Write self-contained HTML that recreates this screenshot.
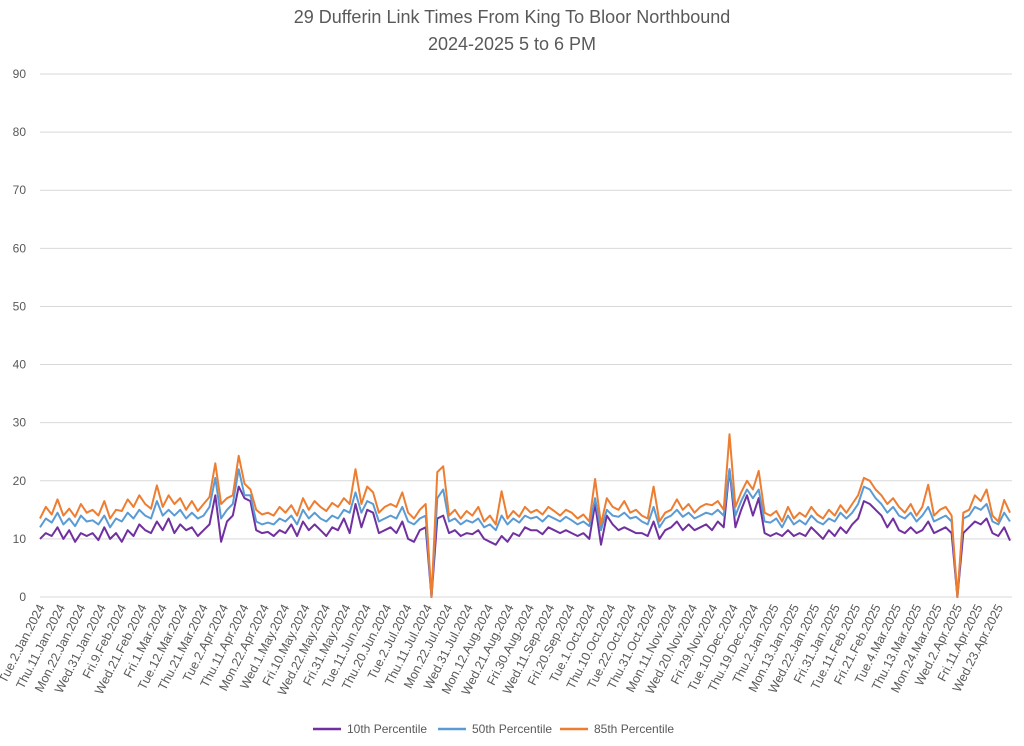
<!DOCTYPE html>
<html><head><meta charset="utf-8"><style>
html,body{margin:0;padding:0;background:#fff;}
svg{display:block;font-family:"Liberation Sans",Arial,sans-serif;}
</style></head><body>
<svg id="chart" width="1024" height="746" viewBox="0 0 1024 746" xmlns="http://www.w3.org/2000/svg">
<text x="512" y="23" text-anchor="middle" font-size="18" fill="#595959">29 Dufferin Link Times From King To Bloor Northbound</text>
<text x="512" y="50" text-anchor="middle" font-size="18" fill="#595959">2024-2025 5 to 6 PM</text>
<g id="grid"></g>
<g id="yaxis"></g>
<g id="xaxis"></g>
<g id="series"></g>
<g>
<g><line x1="313" y1="729" x2="341" y2="729" stroke="#7030a0" stroke-width="2.5"/><text x="347" y="733" font-size="12" fill="#595959">10th Percentile</text></g>
<g><line x1="438" y1="729" x2="466" y2="729" stroke="#5b9bd5" stroke-width="2.5"/><text x="472" y="733" font-size="12" fill="#595959">50th Percentile</text></g>
<g><line x1="560" y1="729" x2="588" y2="729" stroke="#ed7d31" stroke-width="2.5"/><text x="594" y="733" font-size="12" fill="#595959">85th Percentile</text></g>
</g>
</svg>
<script>
const yTicks=[0,10,20,30,40,50,60,70,80,90];
const tickLabels=["Tue.2.Jan.2024","Thu.11.Jan.2024","Mon.22.Jan.2024","Wed.31.Jan.2024","Fri.9.Feb.2024","Wed.21.Feb.2024","Fri.1.Mar.2024","Tue.12.Mar.2024","Thu.21.Mar.2024","Tue.2.Apr.2024","Thu.11.Apr.2024","Mon.22.Apr.2024","Wed.1.May.2024","Fri.10.May.2024","Wed.22.May.2024","Fri.31.May.2024","Tue.11.Jun.2024","Thu.20.Jun.2024","Tue.2.Jul.2024","Thu.11.Jul.2024","Mon.22.Jul.2024","Wed.31.Jul.2024","Mon.12.Aug.2024","Wed.21.Aug.2024","Fri.30.Aug.2024","Wed.11.Sep.2024","Fri.20.Sep.2024","Tue.1.Oct.2024","Thu.10.Oct.2024","Tue.22.Oct.2024","Thu.31.Oct.2024","Mon.11.Nov.2024","Wed.20.Nov.2024","Fri.29.Nov.2024","Tue.10.Dec.2024","Thu.19.Dec.2024","Thu.2.Jan.2025","Mon.13.Jan.2025","Wed.22.Jan.2025","Fri.31.Jan.2025","Tue.11.Feb.2025","Fri.21.Feb.2025","Tue.4.Mar.2025","Thu.13.Mar.2025","Mon.24.Mar.2025","Wed.2.Apr.2025","Fri.11.Apr.2025","Wed.23.Apr.2025"];
const p85=[13.5,15.5,14.2,16.8,14,15.2,13.8,16,14.5,15,
14,16.5,13.5,15,14.8,16.8,15.5,17.5,16,15.2,
19.2,15.5,17.5,16,17,15,16.5,14.8,16,17.2,
23,16,17,17.5,24.3,19.5,18.5,15,14.2,14.5,
14,15.5,14.5,15.8,14,17,15,16.5,15.5,14.8,
16.2,15.5,17,16,22,16,19,18,14.5,15.5,
16,15.5,18,14.5,13.5,15,16,0,21.5,22.5,
14,15,13.5,14.8,14,15.5,13,14,12.5,18.2,
13.5,14.8,13.8,15.5,14.5,15,14.2,15.5,14.8,14,
15,14.5,13.5,14.2,13,20.3,12.5,17,15.5,15,
16.5,14.5,15,14,13.5,19,13,14.5,15,16.8,
15,16,14.5,15.5,16,15.8,16.5,15,28,15.5,
18,20,18.5,21.7,14.5,14,14.8,13,15.5,13.5,
14.5,13.8,15.5,14.2,13.5,15,14,15.8,14.5,16,
17.5,20.5,20,18.5,17.5,16,17,15.5,14.5,16,
14,15.5,19.3,14,15,15.5,14,0,14.5,15,
17.5,16.5,18.5,14,13,16.7,14.5];
const p50=[12,13.5,12.8,14.5,12.5,13.5,12.2,14,13,13.2,
12.5,14,12,13.5,13,14.5,13.5,15,14,13.5,
16.5,14,15,14,15,13.5,14.5,13.5,14,15.5,
20.5,13.5,15,16,22,17.5,17.5,13,12.5,12.8,
12.5,13.5,13,14,12.5,15,13.5,14.5,13.5,13,
14,13.5,15,14.5,18,14.5,16.5,16,13,13.5,
14,13.5,15.5,13,12.5,13.5,14,0,17,18.5,
13,13.5,12.5,13.2,12.8,13.5,12,12.5,11.5,14,
12.5,13.5,12.8,14,13.5,13.8,13,14,13.5,13,
13.8,13.2,12.5,13,12.2,17,11.5,15,14,13.8,
14.5,13.5,13.8,13,12.5,15.5,12,13.5,14,15,
13.8,14.5,13.5,14,14.5,14.2,15,14,22,14,
16.5,18.5,17,18.5,13,12.8,13.5,12,14,12.5,
13.2,12.5,14,13,12.5,13.5,13,14.5,13.5,14.5,
16,19,18.5,17,16,14.5,15.5,14,13.5,14.5,
13,14,15.5,13,13.5,14,13,0,13.5,14,
15.5,15,16,13,12.5,14.5,13];
const p10=[10,11,10.5,12,10,11.5,9.5,11,10.5,11,
9.8,12,10,11,9.5,11.5,10.5,12.5,11.5,11,
13,11.5,13.5,11,12.5,11.5,12,10.5,11.5,12.5,
17.5,9.5,13,14,19,17,16.5,11.5,11,11.2,
10.5,11.5,11,12.5,10.5,13,11.5,12.5,11.5,10.5,
12,11.5,13.5,11,16,12,15,14.5,11,11.5,
12,11,13,10,9.5,11.5,12,0,13.5,14,
11,11.5,10.5,11,10.8,11.5,10,9.5,9,10.5,
9.5,11,10.5,12,11.5,11.5,10.8,12,11.5,11,
11.5,11,10.5,11,10,16,9,14,12.5,11.5,
12,11.5,11,11,10.5,13,10,11.5,12,13,
11.5,12.5,11.5,12,12.5,11.5,13,12,22,12,
15,17.5,14,17,11,10.5,11,10.5,11.5,10.5,
11,10.5,12,11,10,11.5,10.5,12,11,12.5,
13.5,16.5,16,15,14,12,13.5,11.5,11,12,
11,11.5,13,11,11.5,12,11,0,11,12,
13,12.5,13.5,11,10.5,12,9.7];
const NS='http://www.w3.org/2000/svg';
const X0=40,X1=1010,Y0=597,Y90=74;
const totalWeekdays=334;
function yS(v){return Y0-(v/90)*(Y0-Y90);}
function xFrac(f){return X0+f*(X1-X0);}
function xData(i){return xFrac(i/(p85.length-1));}
function xTick(k){return xFrac(k*7/(totalWeekdays-1));}
const grid=document.getElementById('grid'),ya=document.getElementById('yaxis'),xa=document.getElementById('xaxis'),ser=document.getElementById('series');
yTicks.forEach(t=>{
 const l=document.createElementNS(NS,'line');
 
 
 l.setAttribute('x1',X0);l.setAttribute('x2',1012);l.setAttribute('y1',yS(t));l.setAttribute('y2',yS(t));
 l.setAttribute('stroke','#d9d9d9');l.setAttribute('stroke-width','1');
 grid.appendChild(l);
 const tx=document.createElementNS(NS,'text');
 
 
 tx.setAttribute('x',26);tx.setAttribute('y',yS(t)+4);tx.setAttribute('text-anchor','end');
 tx.setAttribute('font-size','12');tx.setAttribute('fill','#595959');tx.textContent=t;
 ya.appendChild(tx);
});
tickLabels.forEach((s,k)=>{
 const x=xTick(k);
 const tx=document.createElementNS(NS,'text');
 
 
 tx.setAttribute('transform','translate('+(x+5)+',607) rotate(-63)');
 tx.setAttribute('text-anchor','end');tx.setAttribute('font-size','12.5');tx.setAttribute('fill','#595959');
 tx.textContent=s;xa.appendChild(tx);
});
[[p10,'#7030a0','series-10th'],[p50,'#5b9bd5','series-50th'],[p85,'#ed7d31','series-85th']].forEach(([arr,c,n])=>{
 const p=document.createElementNS(NS,'polyline');
 
 
 p.setAttribute('points',arr.map((v,i)=>xData(i).toFixed(1)+','+yS(v).toFixed(1)).join(' '));
 p.setAttribute('fill','none');p.setAttribute('stroke',c);p.setAttribute('stroke-width','2');p.setAttribute('stroke-linejoin','round');
 ser.appendChild(p);
});
</script>
</body></html>
